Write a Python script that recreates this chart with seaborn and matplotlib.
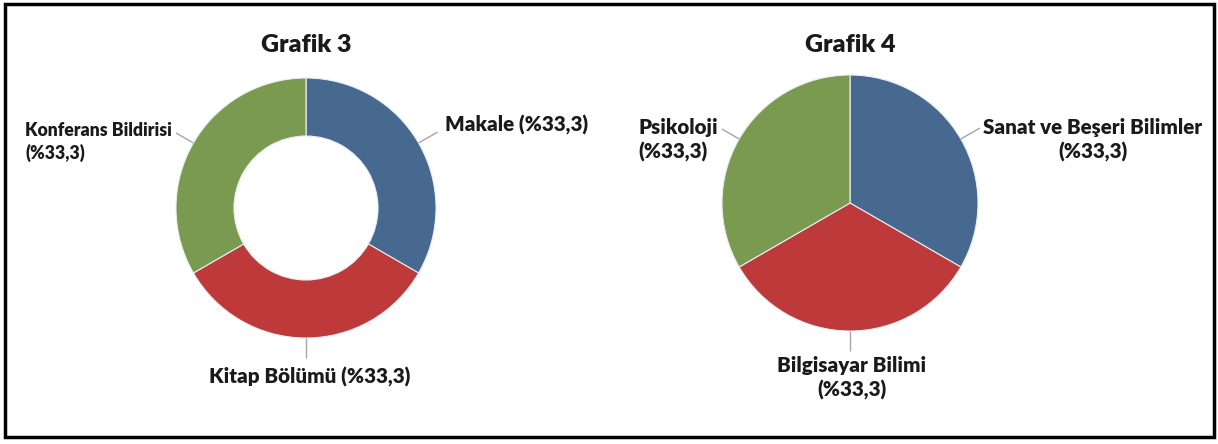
import numpy as np
import matplotlib
matplotlib.use("Agg")
import matplotlib.pyplot as plt
import matplotlib.patches as mpatches
import seaborn as sns

# ---- data ----
titles = ["Grafik 3", "Grafik 4"]
labels3 = ["Makale (%33,3)", "Kitap Bölümü (%33,3)", "Konferans Bildirisi\n(%33,3)"]
values3 = [33.3, 33.3, 33.3]
labels4 = ["Sanat ve Beşeri Bilimler\n(%33,3)", "Bilgisayar Bilimi\n(%33,3)", "Psikoloji\n(%33,3)"]
values4 = [33.3, 33.3, 33.3]
slice_colors = ["#48698F", "#BE3A3A", "#7A9A4F"]

sns.set_theme(style="white")
plt.rcParams['font.family'] = ['Lato', 'DejaVu Sans']

W, H = 1218, 444
fig = plt.figure(figsize=(W / 100, H / 100), dpi=100)
ax = fig.add_axes([0, 0, 1, 1])
palette = sns.color_palette(slice_colors)

def Y(y):
    return H - y

def draw(values, labels, center, radius, width, title, label_specs):
    wedges, _ = ax.pie(values, colors=palette, startangle=90, counterclock=False,
                       center=(center[0], Y(center[1])), radius=radius,
                       wedgeprops=dict(width=width, edgecolor="#E8EEF4", linewidth=0.8))
    ax.text(center[0], Y(45), title, ha="center", va="center",
            fontsize=18, fontweight="heavy", color="#1a1a1a")
    for w, lab, spec in zip(wedges, labels, label_specs):
        mid = np.deg2rad((w.theta1 + w.theta2) / 2)
        ex = center[0] + radius * np.cos(mid)
        ey = Y(center[1]) + radius * np.sin(mid)
        L = spec["lead"]
        ax.plot([ex, ex + L * np.cos(mid)], [ey, ey + L * np.sin(mid)],
                color="#A6A6A6", lw=1.0, solid_capstyle="butt")
        ax.text(spec["x"], Y(spec["y"]), lab, ha=spec["ha"], va="center",
                multialignment=spec.get("ma", spec["ha"]),
                fontsize=spec["fs"], fontweight="heavy", color="#1a1a1a",
                linespacing=1.3)

draw(values3, labels3, (306, 208), 130, 58, titles[0], [
    dict(x=445, y=125, ha="left", fs=14.8, lead=22),
    dict(x=310, y=377, ha="center", fs=14.8, lead=20),
    dict(x=25, y=142, ha="left", fs=12.7, lead=20),
])
draw(values4, labels4, (850, 203), 128, None, titles[1], [
    dict(x=1093, y=140, ha="center", fs=14.8, lead=22),
    dict(x=852, y=378, ha="center", fs=14.8, lead=20),
    dict(x=638, y=140, ha="left", fs=14.8, lead=20),
])

ax.set_xlim(0, W)
ax.set_ylim(0, H)
ax.set_aspect("equal")
ax.axis("off")

fig.patches.append(mpatches.Rectangle((5 / W, 7 / H), 1209 / W, 433 / H,
                                      transform=fig.transFigure, fill=False,
                                      edgecolor="black", linewidth=2.5))
fig.savefig("out.png", dpi=100, facecolor="white")
